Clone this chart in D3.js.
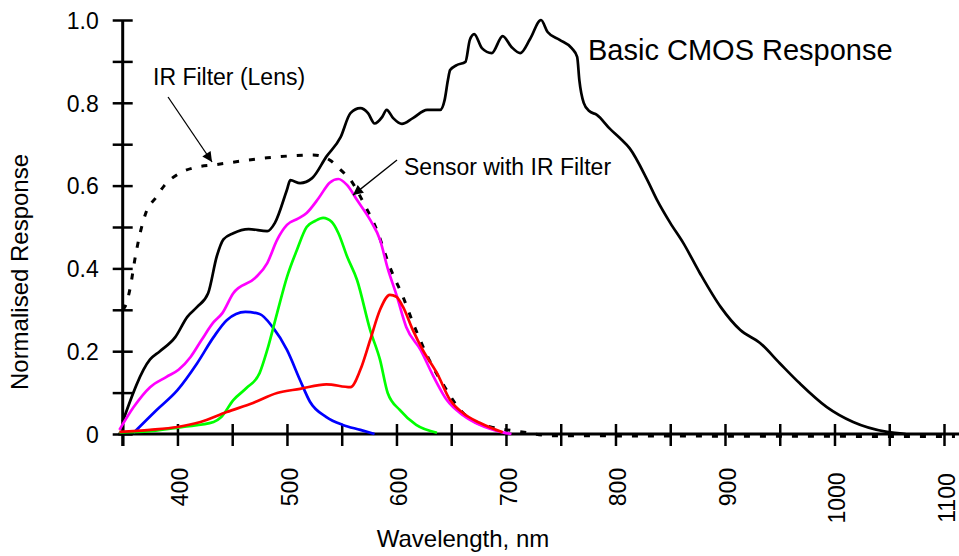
<!DOCTYPE html>
<svg width="959" height="556"></svg>
<script src="https://cdn.jsdelivr.net/npm/d3@7"></script>

<style>
body { margin: 0; background: #fff; }
text { font-family: "Liberation Sans", Arial, Helvetica, sans-serif; fill: #000; }
.tick_label { font-size: 23px; }
.axis_title { font-size: 24px; }
.note { font-size: 23px; }
.big_note { font-size: 29px; }
</style>

<script>

// wavelength (nm) / normalised response pairs
var cmos_nm = [350, 375, 384, 398, 409, 418, 428, 436, 442, 451, 465, 482, 489, 500, 503, 512, 523, 536, 549, 558, 567, 574, 580, 587, 591, 597, 605, 615, 628, 640, 644, 647, 649, 655, 663, 667, 671, 678, 687, 697, 705, 713, 722, 732, 738, 749, 760, 765, 767, 771, 776, 783, 795, 804, 813, 829, 838, 850, 862, 877, 896, 914, 932, 950, 968, 993, 1017, 1048, 1065];
var cmos_val = [0.03, 0.18, 0.20, 0.234, 0.283, 0.307, 0.34, 0.43, 0.47, 0.485, 0.495, 0.49, 0.51, 0.59, 0.613, 0.606, 0.618, 0.67, 0.717, 0.775, 0.787, 0.775, 0.75, 0.766, 0.783, 0.763, 0.749, 0.763, 0.783, 0.783, 0.807, 0.855, 0.879, 0.891, 0.899, 0.952, 0.966, 0.932, 0.92, 0.961, 0.935, 0.92, 0.954, 1.0, 0.971, 0.952, 0.932, 0.911, 0.855, 0.80, 0.78, 0.771, 0.737, 0.715, 0.69, 0.614, 0.565, 0.51, 0.461, 0.389, 0.307, 0.251, 0.22, 0.171, 0.123, 0.065, 0.029, 0.005, 0.0];

var ir_nm = [350, 352, 357, 361, 366, 372, 380, 388, 402, 418, 433, 482, 524, 539, 549, 558, 570, 582, 594, 606, 617, 629, 643, 660, 672, 686, 701, 715, 740, 1110];
var ir_val = [0.30, 0.307, 0.355, 0.42, 0.486, 0.54, 0.57, 0.60, 0.63, 0.645, 0.65, 0.667, 0.674, 0.662, 0.638, 0.614, 0.558, 0.493, 0.403, 0.331, 0.256, 0.184, 0.118, 0.053, 0.029, 0.017, 0.01, 0.005, -0.004, -0.006];

var sensor_nm = [347, 360, 375, 390, 401, 412, 422, 433, 441, 451, 471, 482, 491, 500, 510, 518, 529, 539, 547, 555, 564, 576, 585, 592, 600, 609, 622, 634, 646, 661, 676, 697, 705];
var sensor_val = [0.01, 0.065, 0.113, 0.138, 0.155, 0.186, 0.227, 0.27, 0.292, 0.34, 0.377, 0.413, 0.469, 0.505, 0.52, 0.534, 0.57, 0.607, 0.616, 0.601, 0.565, 0.517, 0.469, 0.40, 0.336, 0.258, 0.203, 0.138, 0.082, 0.045, 0.022, 0.004, 0.0];

var green_nm = [347, 375, 405, 433, 440, 451, 463, 475, 482, 491, 500, 509, 518, 526, 533, 541, 547, 555, 564, 576, 585, 592, 603, 618, 637];
var green_val = [0.004, 0.007, 0.017, 0.029, 0.041, 0.082, 0.111, 0.147, 0.203, 0.292, 0.379, 0.444, 0.5, 0.515, 0.522, 0.512, 0.485, 0.428, 0.372, 0.251, 0.179, 0.099, 0.058, 0.022, 0.003];

var blue_nm = [360, 381, 400, 418, 433, 445, 462, 475, 487, 500, 512, 521, 536, 551, 567, 580];
var blue_val = [0.003, 0.058, 0.106, 0.171, 0.234, 0.275, 0.295, 0.29, 0.258, 0.203, 0.13, 0.078, 0.041, 0.022, 0.01, 0.0];

var red_nm = [347, 375, 400, 421, 445, 469, 491, 512, 536, 558, 567, 576, 585, 594, 600, 606, 615, 624, 637, 649, 661, 676, 697];
var red_val = [0.005, 0.01, 0.017, 0.029, 0.053, 0.075, 0.099, 0.109, 0.12, 0.113, 0.155, 0.227, 0.3, 0.336, 0.331, 0.307, 0.251, 0.203, 0.147, 0.082, 0.05, 0.027, 0.004];

var x_ticks = d3.range(350, 1101, 50);
var x_labels = [400, 500, 600, 700, 800, 900, 1000, 1100];
var y_ticks = d3.range(0, 11).map(function(i) { return i / 10; });
var y_labels = [0, 0.2, 0.4, 0.6, 0.8, 1.0];

var svg = d3.select("svg");

var x = d3.scaleLinear()
    .domain([350, 1100])
    .range([122.7, 944]);

var y = d3.scaleLinear()
    .domain([0, 1])
    .range([434, 20]);

var defs = svg.append("defs");
defs.append("marker")
    .attr("id", "arrow")
    .attr("viewBox", "0 0 10 10")
    .attr("refX", 10)
    .attr("refY", 5)
    .attr("markerWidth", 14)
    .attr("markerHeight", 10)
    .attr("markerUnits", "userSpaceOnUse")
    .attr("orient", "auto")
  .append("path")
    .attr("d", "M0,0L10,5L0,10Z")
    .attr("fill", "#000");

// x axis, ticks cross the line
var x_axis = svg.append("g")
    .attr("transform", "translate(0," + y(0) + ")")
    .call(d3.axisBottom(x)
      .tickValues(x_ticks)
      .tickSize(12)
      .tickFormat(function(d) { return x_labels.indexOf(d) >= 0 ? d : ""; }));
x_axis.select(".domain").remove();
x_axis.selectAll(".tick line")
    .attr("y1", -10)
    .attr("y2", 12)
    .attr("stroke", "#000")
    .attr("stroke-width", 2.5);
x_axis.selectAll(".tick text")
    .attr("class", "tick_label")
    .attr("text-anchor", "middle")
    .attr("y", null)
    .attr("dy", "0.36em")
    .attr("transform", function(d) {
      var len = String(d).length;
      return "translate(2," + (53 + (len - 3) * 11) + ") rotate(-90)";
    });
x_axis.append("line")
    .attr("x1", x(346))
    .attr("x2", 959)
    .attr("stroke", "#000")
    .attr("stroke-width", 3);

// y axis
var y_axis = svg.append("g")
    .attr("transform", "translate(" + x(350) + ",0)")
    .call(d3.axisLeft(y)
      .tickValues(y_ticks)
      .tickSize(10)
      .tickFormat(function(d) {
        var major = y_labels.some(function(v) { return Math.abs(v - d) < 1e-9; });
        if (!major) return "";
        return d === 0 ? "0" : d3.format(".1f")(d);
      }));
y_axis.select(".domain").remove();
y_axis.selectAll(".tick line")
    .attr("x1", -10)
    .attr("x2", 10)
    .attr("stroke", "#000")
    .attr("stroke-width", 2.5);
y_axis.selectAll(".tick text")
    .attr("class", "tick_label")
    .attr("x", -24)
    .attr("dy", "0.36em");
y_axis.append("line")
    .attr("y1", y(1))
    .attr("y2", y(0) + 12)
    .attr("stroke", "#000")
    .attr("stroke-width", 3);
svg.selectAll(".tick text").attr("font-size", null).attr("font-family", null);

// axis titles
svg.append("text")
    .attr("class", "axis_title")
    .attr("x", 463)
    .attr("y", 547)
    .attr("text-anchor", "middle")
    .text("Wavelength, nm");

svg.append("text")
    .attr("class", "axis_title")
    .attr("transform", "translate(28,272) rotate(-90)")
    .attr("text-anchor", "middle")
    .text("Normalised Response");

// curves
function zip(a, b) {
  return a.map(function(v, i) { return [v, b[i]]; });
}

var line = d3.line()
    .x(function(d) { return x(d[0]); })
    .y(function(d) { return y(d[1]); })
    .curve(d3.curveMonotoneX);

var series = [
  {nm: cmos_nm, val: cmos_val, color: "#000000", dash: null},
  {nm: ir_nm, val: ir_val, color: "#000000", dash: "6,10"},
  {nm: blue_nm, val: blue_val, color: "#0000ff", dash: null},
  {nm: green_nm, val: green_val, color: "#00ff00", dash: null},
  {nm: sensor_nm, val: sensor_val, color: "#ff00ff", dash: null},
  {nm: red_nm, val: red_val, color: "#ff0000", dash: null}
];

series.forEach(function(s) {
  svg.append("path")
      .datum(zip(s.nm, s.val))
      .attr("fill", "none")
      .attr("stroke", s.color)
      .attr("stroke-width", s.dash ? 3 : 2.7)
      .attr("stroke-dasharray", s.dash)
      .attr("stroke-linejoin", "round")
      .attr("d", line);
});

// annotations
svg.append("text")
    .attr("class", "note")
    .attr("x", 153)
    .attr("y", 85)
    .text("IR Filter (Lens)");

svg.append("line")
    .attr("x1", x(391.4)).attr("y1", y(0.814))
    .attr("x2", x(431.6)).attr("y2", y(0.657))
    .attr("stroke", "#000")
    .attr("stroke-width", 1.3)
    .attr("marker-end", "url(#arrow)");

svg.append("text")
    .attr("class", "note")
    .attr("x", 404)
    .attr("y", 175)
    .text("Sensor with IR Filter");

svg.append("line")
    .attr("x1", x(600.5)).attr("y1", y(0.662))
    .attr("x2", x(560.3)).attr("y2", y(0.577))
    .attr("stroke", "#000")
    .attr("stroke-width", 1.3)
    .attr("marker-end", "url(#arrow)");

svg.append("text")
    .attr("class", "big_note")
    .attr("x", 588)
    .attr("y", 60)
    .text("Basic CMOS Response");

</script>
